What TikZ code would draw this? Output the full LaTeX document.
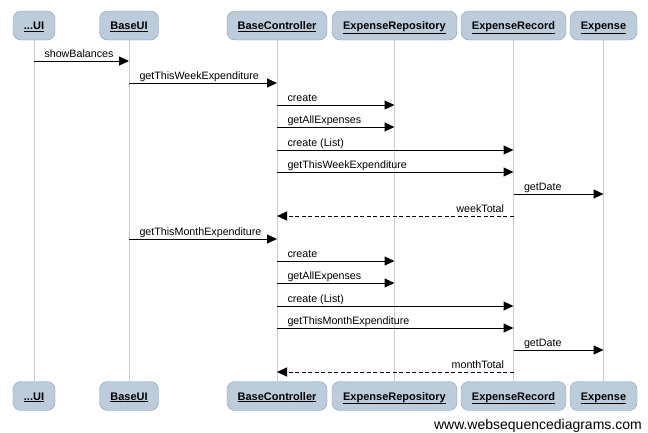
\documentclass[tikz,border=0pt]{standalone}
\usepackage{fontspec}
\setmainfont{Liberation Sans}
\usetikzlibrary{arrows.meta}
\definecolor{boxfill}{HTML}{BCCCDA}
\definecolor{boxline}{HTML}{8A9CBE}
\definecolor{lifegray}{HTML}{CCCCCC}
\newcommand{\actor}[1]{\underline{\textbf{#1}}}

\begin{document}
\begin{tikzpicture}[x=1pt,y=-1pt,
  party/.style={rectangle,rounded corners=8pt,draw=boxline,fill=boxfill,
    minimum height=29pt,inner sep=0pt,text height=8pt,text depth=0pt,
    font=\fontsize{11}{13}\selectfont},
  lifeline/.style={draw=lifegray,line width=1pt},
  msg/.style={-{Triangle[length=10pt,width=9pt]},line width=1pt},
  reply/.style={msg,dash pattern=on 4pt off 2.5pt},
  lbl/.style={inner sep=0pt,font=\fontsize{10.7}{12}\selectfont}]
\useasboundingbox (0,0) rectangle (648,432);

% participants, top and bottom
\foreach \name/\x/\w/\txt in {ui/34/42/.{}.{}.UI, baseui/129/59/BaseUI,
    ctrl/277/100/BaseController, repo/394.5/125/ExpenseRepository,
    record/513.5/105/ExpenseRecord, expense/603.5/67/Expense} {
  \node [party,minimum width=\w pt] (\name) at (\x,25.5) {\actor{\txt}};
  \node [party,minimum width=\w pt] (\name-b) at (\x,396) {\actor{\txt}};
  \draw [lifeline] (\name) -- (\name-b);
}

% calls
\foreach \from/\to/\y/\txt in {ui/baseui/61/showBalances,
    baseui/ctrl/83/getThisWeekExpenditure, ctrl/repo/105/create,
    ctrl/repo/127/getAllExpenses, ctrl/record/150/create (List),
    ctrl/record/172/getThisWeekExpenditure, record/expense/194/getDate,
    baseui/ctrl/239/getThisMonthExpenditure, ctrl/repo/261/create,
    ctrl/repo/283/getAllExpenses, ctrl/record/306/create (List),
    ctrl/record/328/getThisMonthExpenditure, record/expense/350/getDate} {
  \draw [msg] (\from |- 0,\y) -- node [lbl,pos=0,anchor=base west,
    xshift=10pt,yshift=4pt] {\txt} (\to |- 0,\y);
}

% returns
\draw [reply] (record |- 0,216) -- node [lbl,pos=0,anchor=base east,
  xshift=-9pt,yshift=4pt] {weekTotal} (ctrl |- 0,216);
\draw [reply] (record |- 0,372) -- node [lbl,pos=0,anchor=base east,
  xshift=-9pt,yshift=4pt] {monthTotal} (ctrl |- 0,372);

\node [inner sep=0pt,anchor=base east,font=\fontsize{14}{16}\selectfont]
  (site) at (642,429) {www.websequencediagrams.com};
\end{tikzpicture}
\end{document}
